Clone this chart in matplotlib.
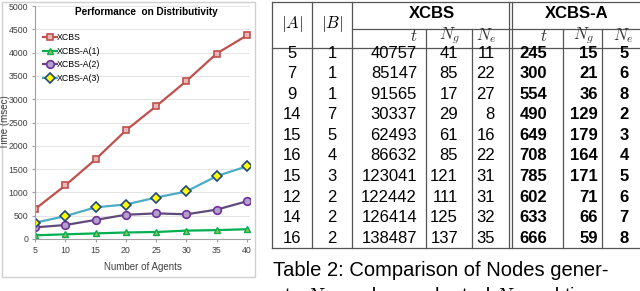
import matplotlib

matplotlib.use("Agg")
import matplotlib.pyplot as plt
from matplotlib.patches import Rectangle

plt.rcParams["mathtext.fontset"] = "cm"

# chart data
agents = [5, 10, 15, 20, 25, 30, 35, 40]
xcbs = [640, 1150, 1710, 2330, 2850, 3390, 3980, 4370]
xcbs_a1 = [80, 100, 120, 140, 150, 180, 190, 210]
xcbs_a2 = [250, 300, 410, 520, 550, 530, 630, 810]
xcbs_a3 = [350, 490, 680, 740, 890, 1020, 1350, 1560]

# table data
tab_a = [5, 7, 9, 14, 15, 16, 15, 12, 14, 16]
tab_b = [1, 1, 1, 7, 5, 4, 3, 2, 2, 2]
xcbs_t = [40757, 85147, 91565, 30337, 62493, 86632, 123041, 122442, 126414, 138487]
xcbs_ng = [41, 85, 17, 29, 61, 85, 121, 111, 125, 137]
xcbs_ne = [11, 22, 27, 8, 16, 22, 31, 31, 32, 35]
xa_t = [245, 300, 554, 490, 649, 708, 785, 602, 633, 666]
xa_ng = [15, 21, 36, 129, 179, 164, 171, 71, 66, 59]
xa_ne = [5, 6, 8, 2, 3, 4, 5, 6, 7, 8]

W, H = 640, 291
fig = plt.figure(figsize=(W / 100, H / 100), dpi=100)

# full-figure overlay in pixel coords
ov = fig.add_axes([0, 0, 1, 1], zorder=0)
ov.set_xlim(0, W); ov.set_ylim(H, 0); ov.axis("off")

# chart panel border
ov.add_patch(Rectangle((1.5, 1.5), 253.5, 275, fill=False, ec="#d0d0d0", lw=1.0))

# ---- line chart
ax = fig.add_axes([35 / W, (H - 239) / H, 215 / W, 233 / H], zorder=2)
ax.patch.set_alpha(0)
ax.plot(agents, xcbs, "-s", color="#c0504d", lw=1.6, ms=5, mfc="#e6b9b8", mec="#c0504d", mew=1.2, label="XCBS")
ax.plot(agents, xcbs_a1, "-^", color="#00b050", lw=1.6, ms=5, mfc="#9bbb59", mec="#00b050", mew=1.0, label="XCBS-A(1)")
ax.plot(agents, xcbs_a2, "-o", color="#604a7b", lw=1.6, ms=5.5, mfc="#b3a2c7", mec="#7030a0", mew=1.2, label="XCBS-A(2)")
ax.plot(agents, xcbs_a3, "-D", color="#4bacc6", lw=1.6, ms=5, mfc="#ffff00", mec="#1f497d", mew=1.2, label="XCBS-A(3)")
ax.set_xlim(5, 40.5); ax.set_ylim(0, 5000)
ax.set_xticks(agents); ax.set_yticks(range(0, 5001, 500))
ax.grid(axis="y", color="#e4e4e4", lw=0.7)
ax.set_axisbelow(True)
for s in ("top", "right"):
    ax.spines[s].set_visible(False)
for s in ("left", "bottom"):
    ax.spines[s].set_color("#a0a0a0"); ax.spines[s].set_linewidth(0.8)
ax.tick_params(labelsize=6.3, length=2, color="#a0a0a0", pad=3, labelcolor="#404040")
for lab in ax.get_xticklabels() + ax.get_yticklabels():
    lab.set_family("Liberation Sans")
ax.set_xlabel("Number of Agents", fontsize=7, family="Liberation Sans", color="#404040", labelpad=5)
ax.set_ylabel("Time (msec)", fontsize=7, family="Liberation Sans", color="#404040")
ax.yaxis.set_label_coords(-0.118, 0.5)
ax.set_title("Performance  on Distributivity", fontsize=7.2, fontweight="bold", family="Liberation Sans", x=0.52, y=0.925)
ax.legend(loc="upper left", bbox_to_anchor=(0.02, 0.9), frameon=False, handlelength=1.6,
          handletextpad=0.0, labelspacing=0.55, prop={"family": "Liberation Sans", "size": 6.3}, borderaxespad=0)

# ---- table
lc, lw = "#555555", 0.9
x0, x1 = 272, 641
ov.plot([x0, x1], [2, 2], color=lc, lw=lw)
ov.plot([352, x1], [29, 29], color=lc, lw=lw)
ov.plot([x0, x1], [48, 48], color=lc, lw=lw)
ov.plot([x0, x1], [248, 248], color=lc, lw=lw)
for xv in (272, 312, 352, 509, 512):
    ov.plot([xv, xv], [2, 248], color=lc, lw=lw)
for xv in (426, 472, 563, 602):
    ov.plot([xv, xv], [29, 248], color=lc, lw=lw)

fs = 12
tf = {"family": "Liberation Sans", "fontsize": fs, "va": "center"}
ov.text(292, 24, "$|A|$", ha="center", **tf)
ov.text(332, 24, "$|B|$", ha="center", **tf)
ov.text(432, 13, "XCBS", ha="center", fontweight="bold", **tf)
ov.text(577, 13, "XCBS-A", ha="center", fontweight="bold", **tf)
for xv, s in [(417, "$t$"), (460, "$N_g$"), (496, "$N_e$"),
              (547, "$t$"), (594, "$N_g$"), (633, "$N_e$")]:
    ov.text(xv, 36, s, ha="right", color="#333333", **tf)

y_rows = [53 + 20.6 * i for i in range(len(tab_a))]
for i, yv in enumerate(y_rows):
    ov.text(292, yv, str(tab_a[i]), ha="center", **tf)
    ov.text(332, yv, str(tab_b[i]), ha="center", **tf)
    ov.text(417, yv, str(xcbs_t[i]), ha="right", **tf)
    ov.text(458, yv, str(xcbs_ng[i]), ha="right", **tf)
    ov.text(495, yv, str(xcbs_ne[i]), ha="right", **tf)
    ov.text(547, yv, str(xa_t[i]), ha="right", fontweight="bold", **tf)
    ov.text(598, yv, str(xa_ng[i]), ha="right", fontweight="bold", **tf)
    ov.text(629, yv, str(xa_ne[i]), ha="right", fontweight="bold", **tf)

ov.text(273, 271, "Table 2: Comparison of Nodes gener-", ha="left", va="center",
        family="Liberation Sans", fontsize=14.5)
ov.text(273, 298, "ate $N_g$, nodes evaluated $N_e$ and time", ha="left", va="center",
        family="Liberation Sans", fontsize=14.5, clip_on=False)

fig.savefig("out.png", dpi=100)
